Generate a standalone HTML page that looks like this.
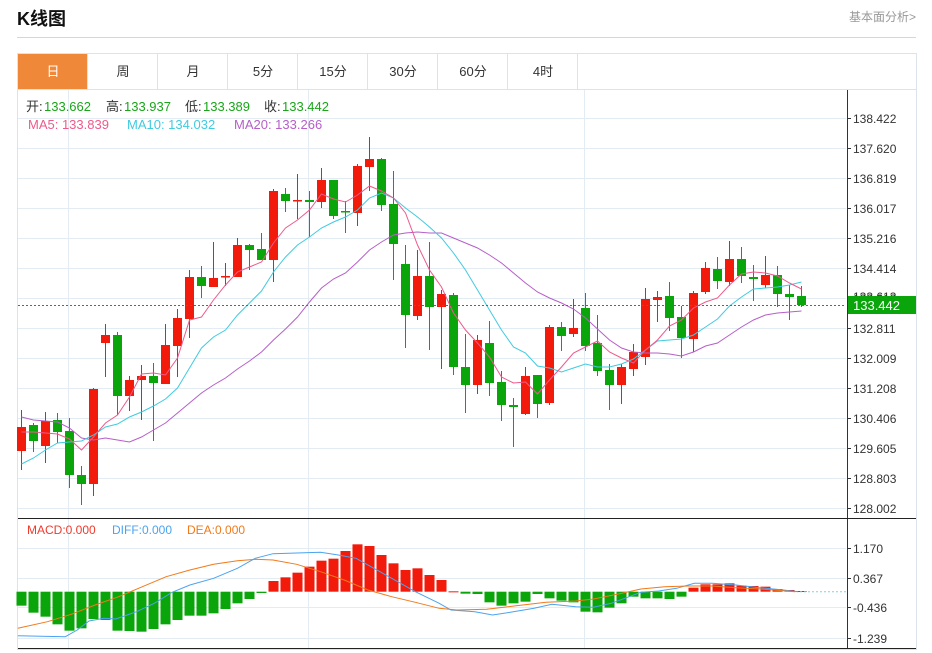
<!DOCTYPE html>
<html><head><meta charset="utf-8"><style>
body{margin:0;background:#fff;width:932px;height:653px;overflow:hidden;font-family:"Liberation Sans","Noto Sans CJK SC",sans-serif;position:relative}
.t{position:absolute;white-space:nowrap}
</style></head><body>
<div class="t" style="left:17px;top:5px;font-size:18px;font-weight:bold;color:#111">K线图</div>
<div class="t" style="left:849px;top:8px;font-size:12px;color:#999">基本面分析&gt;</div>
<div style="position:absolute;left:17px;top:37px;width:899px;height:1px;background:#d6d6d6"></div>
<svg id="s" width="932" height="653" style="position:absolute;left:0;top:0" font-family="Liberation Sans, Noto Sans CJK SC, sans-serif"></svg>
<script>
var S='';
function R(x,y,w,h,f){S+='<rect x="'+x+'" y="'+y+'" width="'+w+'" height="'+h+'" fill="'+f+'"/>';}
function L(x1,y1,x2,y2,c,w,d){S+='<line x1="'+x1+'" y1="'+y1+'" x2="'+x2+'" y2="'+y2+'" stroke="'+c+'" stroke-width="'+(w||1)+'"'+(d?' stroke-dasharray="'+d+'"':'')+'/>';}
function T(x,y,s,c,sz,a){S+='<text x="'+x+'" y="'+y+'" fill="'+c+'" font-size="'+(sz||12)+'"'+(a?' text-anchor="'+a+'"':'')+'>'+s+'</text>';}
function P(pts,c){S+='<polyline fill="none" stroke="'+c+'" stroke-width="1" points="'+pts.join(' ')+'"/>';}
// frame
R(17.5,53.5,899,595,'#fff');S+='<rect x="17.5" y="53.5" width="899" height="596" fill="none" stroke="#dde3ea"/>';
// tabs
var tabs=['日','周','月','5分','15分','30分','60分','4时'];
L(18,89.5,916,89.5,'#dde3ea');
for(var i=0;i<8;i++){var x=18+i*70;if(i==0)R(x,54,69,35,'#f0883a');L(x+69.5,54,x+69.5,89,'#dde3ea');T(x+35,76,tabs[i],i==0?'#fff':'#333',13,'middle');}
// grid
var labs=['138.422','137.620','136.819','136.017','135.216','134.414','133.613','132.811','132.009','131.208','130.406','129.605','128.803','128.002'];
for(i=0;i<14;i++){var y=118+i*30;L(18,y+.5,846,y+.5,'#e3ecf3');}
[68,308,584].forEach(function(x){L(x+.5,90,x+.5,648,'#e3ecf3');});
[548,578,607,638].forEach(function(y){L(18,y+.5,846,y+.5,'#e3ecf3');});
// axis
L(847.5,90,847.5,649,'#333');L(18,518.5,916,518.5,'#222');L(18,648.5,916,648.5,'#222');
for(i=0;i<14;i++){var y=118+i*30;L(847,y+.5,851,y+.5,'#333');T(853,y+5,labs[i],'#333',12);}
var ml=[['1.170',548],['0.367',578],['-0.436',607],['-1.239',638]];
ml.forEach(function(m){L(847,m[1]+.5,851,m[1]+.5,'#333');T(853,m[1]+5,m[0],'#333',12);});
// candles [open,close,high,low] in px; red = up
var C=[[451,427,410,470],[425,441,423,452],[446,421,412,463],[420,432,413,443],[431,475,418,488],[475,484,466,505],[484,389,388,496],[343,335,324,377],[335,396,332,415],[396,380,376,411],[380,376,365,420],[376,383,363,441],[384,345,324,384],[346,318,309,377],[319,277,270,338],[277,286,266,298],[287,278,242,287],[277,276,263,286],[277,245,238,277],[245,250,244,270],[249,260,233,260],[260,191,189,282],[194,201,188,212],[200.5,200,174,219],[200,202,191,237],[202,180,168,208],[180,216,180,219],[211,212,201,233],[213,166,164,226],[167,159,137,191],[159,205,158,211],[204,244,171,280],[264,315,245,348],[316,276,250,320],[276,307,242,350],[307,294,290,369],[295,367,293,375],[367,385,334,413],[385,340,335,394],[343,383,321,396],[382,405,371,421],[405,407,398,447],[414,376,367,415],[375,404,375,418],[403,327,325,405],[327,336,322,351],[334,328,299,337],[308,346,293,351],[343,371,315,376],[370,385,364,410],[385,367,364,404],[369,352,344,376],[357,299,288,365],[300,297,291,322],[296,318,282,331],[317,338,306,358],[339,293,291,352],[292,268,262,294],[269,281,257,289],[282,259,241,286],[259,276,247,283],[277,279,265,301],[285,275,256,288],[275,294,266,307],[294,297,285,320],[296,305,286,307]];
var RED='#f21a0a',GRN='#0aa50a';
// MA
var m5=[432,432,433,434,439,450,437,423,415,397,374,373,375,358,320,317,300,285,272,267,262,243,228,220,210,194,199,202,195,186,191,198,213,245,270,287,313,330,343,357,377,383,382,394,380,367,353,347,341,352,358,363,350,340,326,320,308,302,298,285,274,272,273,276,283,289];
var m10=[464,458,450,443,442,441,435,427,424,417,412,406,399,388,368,348,337,330,315,303,291,272,257,245,237,228,222,217,210,198,193,198,208,217,227,238,253,270,290,310,330,347,353,366,368,372,368,364,367,367,364,359,350,341,340,339,335,327,319,306,297,289,288,287,285,282];
var m20=[417,420,421,422,428,438,440,438,440,442,437,430,423,413,403,393,385,378,369,361,352,340,329,317,302,288,279,273,262,250,242,235,233,232,233,233,238,243,248,255,263,273,283,292,298,303,309,318,329,340,348,352,353,353,354,356,352,346,343,335,327,320,315,313,312,311];
function cx(i){return 21+12*i;}
C.forEach(function(c,i){var x=cx(i),col=c[1]<c[0]?RED:(c[1]>c[0]?GRN:RED);var top=Math.min(c[0],c[1]),h=Math.max(1.5,Math.abs(c[0]-c[1]));L(x+.5,c[2],x+.5,c[3],col);R(x-4,top,9,h,col);});
function pts(a){return a.map(function(v,i){return (cx(i)+.5)+','+v;});}
P(pts(m20),'#b65fc8');P(pts(m10),'#3fcbe0');P(pts(m5),'#ee5a8a');
// current price
L(18,305.5,846,305.5,'#0aa50a',1,'2,2');
T(853,301,'133.613','#333',12);R(848,296,68,18,'#0aa50a');T(853,310,'133.442','#fff',13);
// info
T(26,111,'开:','#333',13);T(44,111,'133.662','#1aa51a',13);T(106,111,'高:','#333',13);T(124,111,'133.937','#1aa51a',13);T(185,111,'低:','#333',13);T(203,111,'133.389','#1aa51a',13);T(264,111,'收:','#333',13);T(282,111,'133.442','#1aa51a',13);
T(28,129,'MA5: 133.839','#ee5a8a',13);T(127,129,'MA10: 134.032','#3fcbe0',13);T(234,129,'MA20: 133.266','#b65fc8',13);
T(27,534,'MACD:0.000','#f03a2a',12);T(112,534,'DIFF:0.000','#4aa3f0',12);T(187,534,'DEA:0.000','#f07a1a',12);
// MACD bars (img y, zero 230)
var mb=[272,293,305,328,347,340,312,315,347,348,350,342,328,315,302,302,295,282,265,252,234,198,187,173,155,137,131,108,88,93,120,145,165,160,180,195,229,236,237,262,272,265,260,237,250,257,262,290,292,278,265,245,250,250,252,245,218,208,208,205,212,213,215,222,225,228];
var z=591.7;
mb.forEach(function(v,i){var y=515+v/3,x=cx(i);var col=y>z?GRN:RED;R(x-4.5,Math.min(y,z),10,Math.max(1,Math.abs(y-z)),col);});
L(800,z,846,z,'#7fd0ee',1,'2,2');
function cv(a){var o=[];for(var k=0;k<a.length;k+=2)o.push((a[k]/1.685).toFixed(1)+','+(515+a[k+1]/3).toFixed(1));return o;}
P(cv([30,362,110,365,130,345,150,318,175,310,195,312,230,290,260,265,290,232,320,210,360,190,400,160,430,130,460,116,540,112,570,120,600,130,630,160,660,190,700,230,740,265,760,285,800,290,830,300,860,292,900,280,930,268,970,275,1000,277,1030,265,1060,245,1080,232,1110,228,1140,220,1170,205,1200,205,1240,210,1280,218,1320,225,1345,230]),'#4aa3f0');
P(cv([30,340,80,320,120,298,160,270,200,245,240,215,280,185,320,165,360,148,400,137,430,133,460,135,500,148,540,170,580,195,620,225,660,245,700,262,740,280,770,285,820,283,870,272,920,262,970,258,1000,252,1040,238,1080,222,1120,215,1160,213,1200,213,1240,218,1280,222,1340,230]),'#f07a1a');
document.getElementById('s').innerHTML=S;
</script>
</body></html>
